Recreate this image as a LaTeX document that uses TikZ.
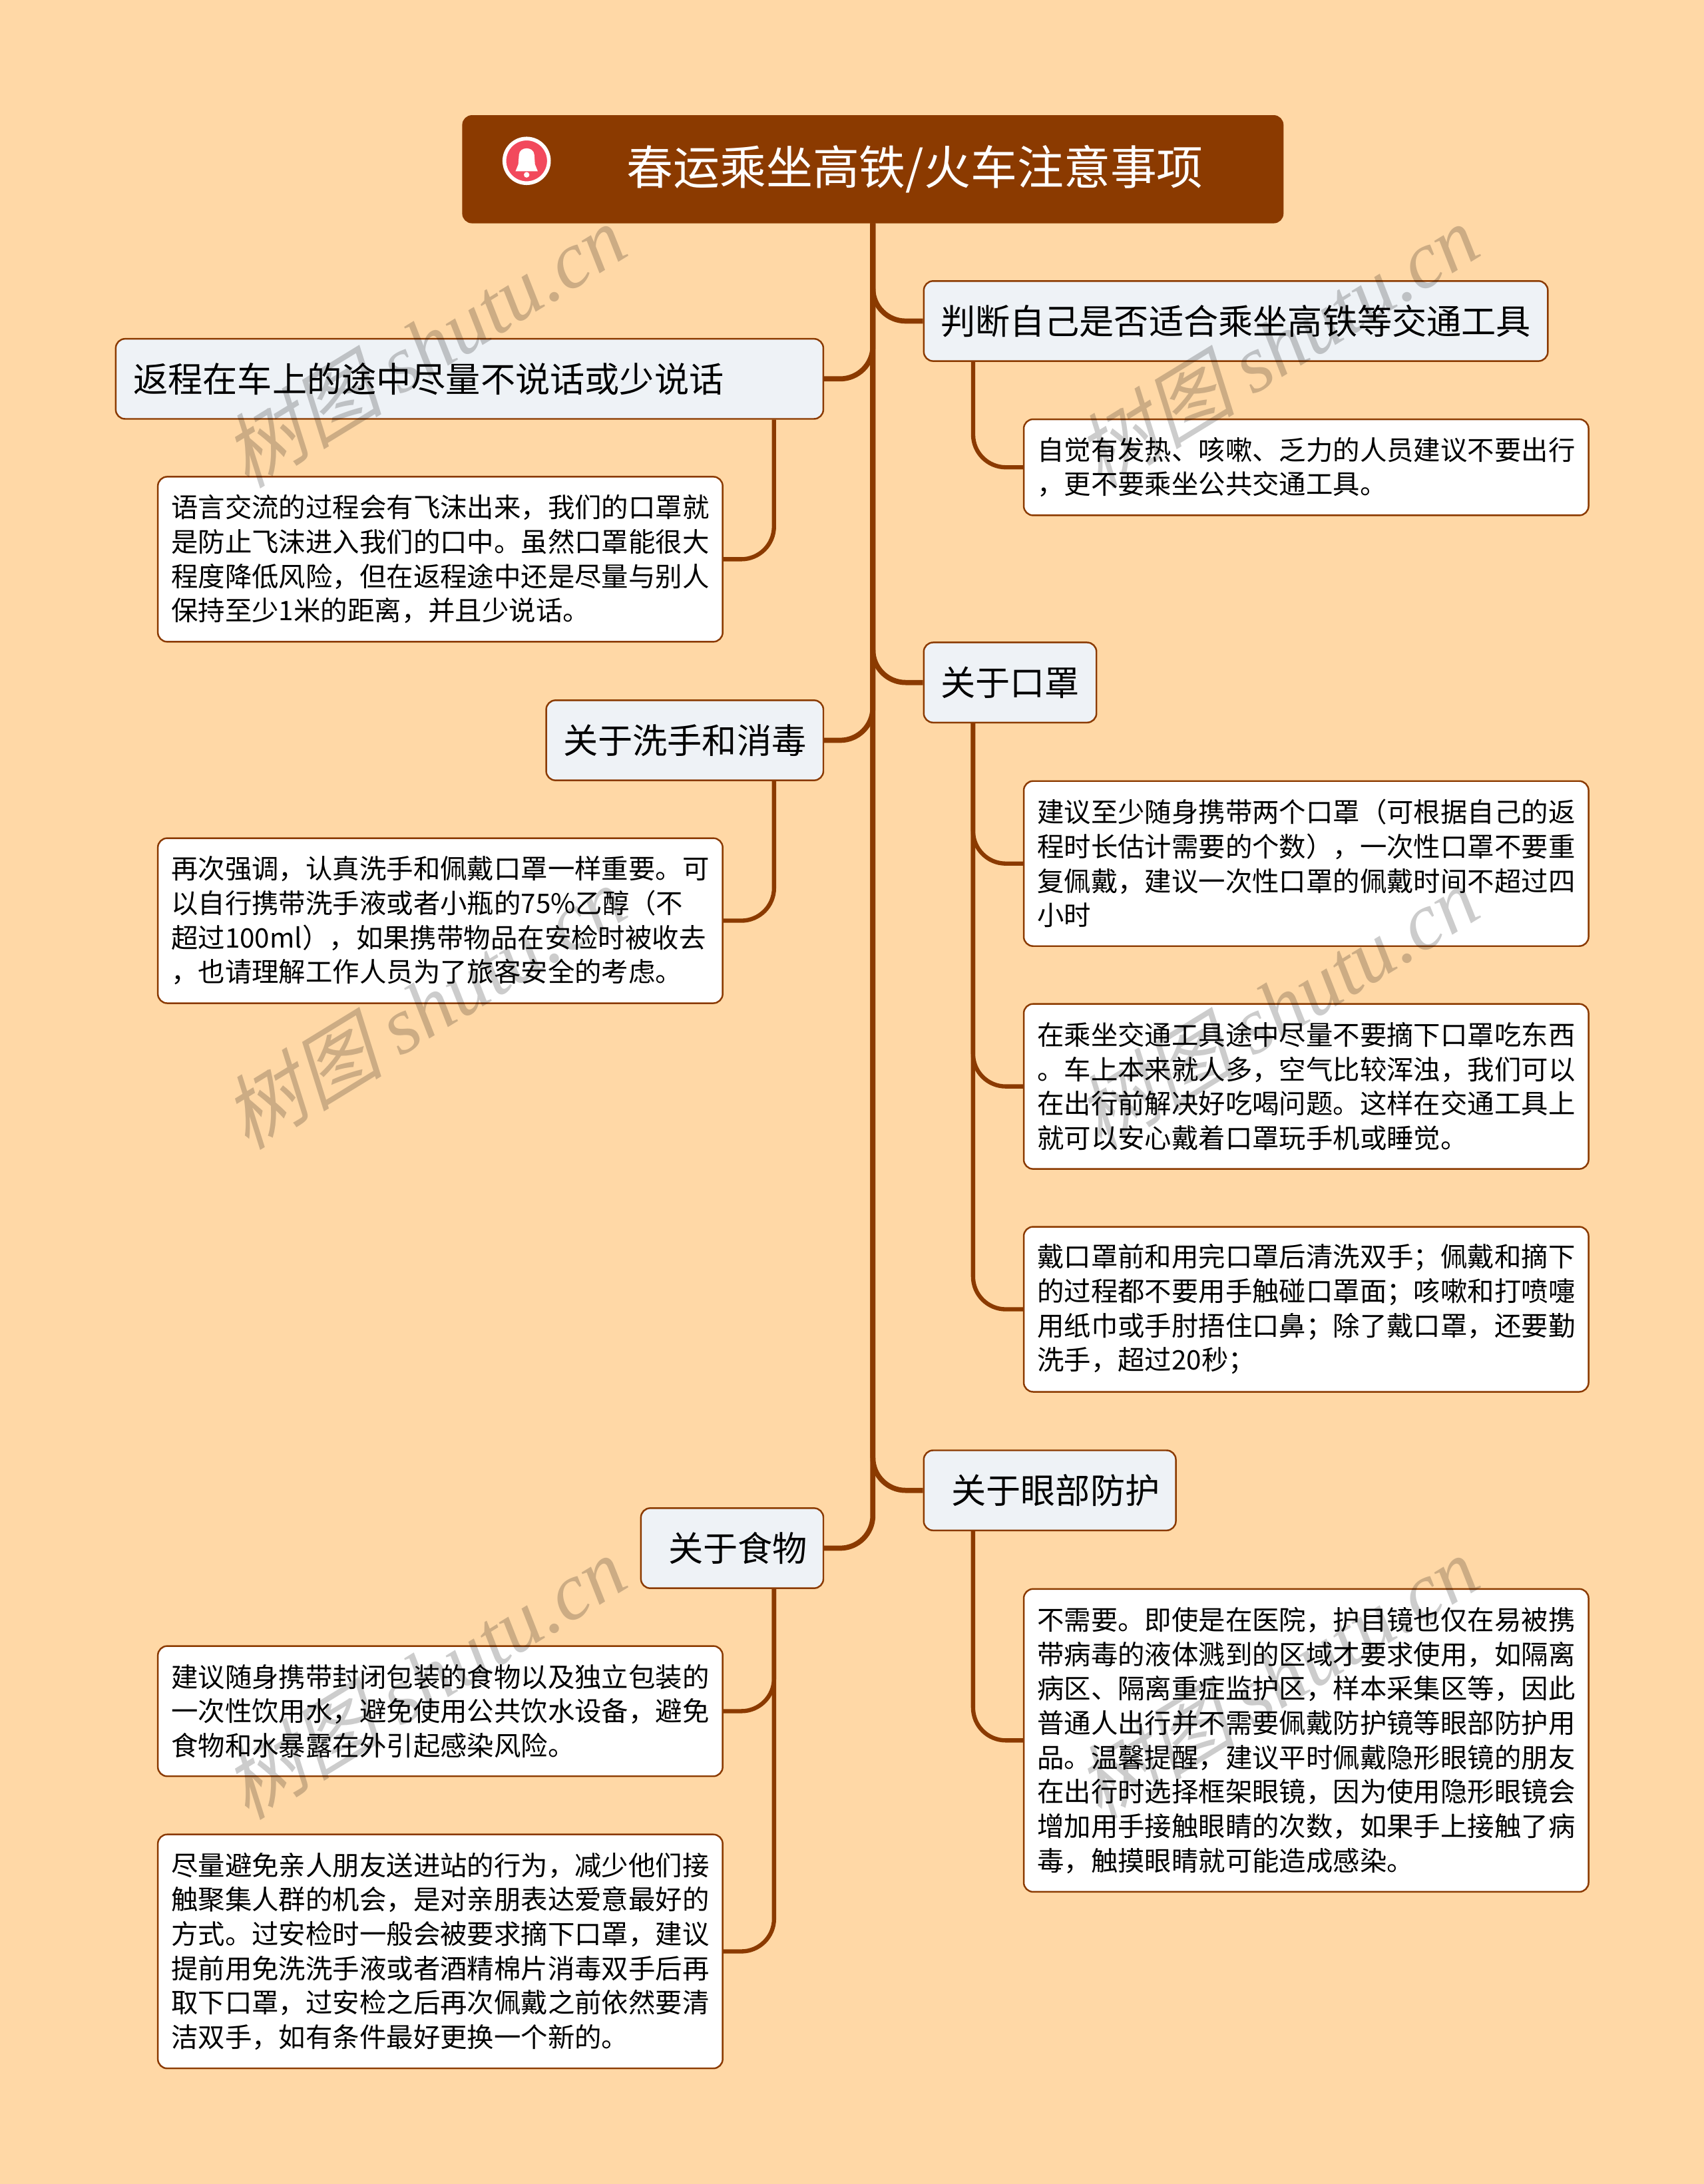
\documentclass[tikz,border=0pt]{standalone}
\usepackage{fontspec}
\setmainfont{Noto Sans CJK SC}
\newfontfamily\wmlatin[Scale=1]{Liberation Serif}
\newfontfamily\wmcjk[FakeSlant=0.25]{Noto Sans CJK SC}
\usetikzlibrary{positioning}
\def\pxu{0.5955pt}
\definecolor{col_back}{HTML}{FFD8A6}
\definecolor{col_line}{HTML}{8B3A00}
\definecolor{col_branch}{HTML}{EEF2F6}
\definecolor{col_bell}{HTML}{F2495C}
\tikzstyle{node_root} = [rectangle, rounded corners=4pt, draw=col_line, fill=col_line, text=white, minimum width=589*\pxu, minimum height=77*\pxu, font=\fontsize{19.9}{24}\selectfont]
\tikzstyle{node_branch} = [rectangle, rounded corners=4pt, draw=col_line, line width=0.7pt, fill=col_branch, text=black, minimum height=57.5*\pxu, font=\fontsize{14.85}{18}\selectfont]
\tikzstyle{node_leaf} = [rectangle, rounded corners=4pt, draw=col_line, line width=0.7pt, fill=white, text=black, align=left, minimum width=405.5*\pxu, font=\fontsize{11.5}{14.7}\selectfont]
\tikzstyle{edge_main} = [draw=col_line, line width=2.2pt, rounded corners=14pt]
\tikzstyle{edge_sub} = [draw=col_line, line width=1.8pt, rounded corners=14pt]
\tikzstyle{node_mark} = [rotate=31.5, text=black, text opacity=0.2, font=\fontsize{34.5}{40}\selectfont]

\begin{document}
\begin{tikzpicture}[x=0.02093cm,y=-0.02093cm]
\fill[col_back] (0,0) rectangle (1223,1568);
\useasboundingbox (0,0) rectangle (1223,1568);

\node (Root) at (626.5,121.5) [node_root] {\hspace*{36pt}春运乘坐高铁/火车注意事项};
\node (Judge) at (887,230.5) [node_branch, minimum width=448*\pxu] {判断自己是否适合乘坐高铁等交通工具};
\node (JudgeA) at (937.5,335.5) [node_leaf, minimum height=69*\pxu] {自觉有发热、咳嗽、乏力的人员建议不要出行\\，更不要乘坐公共交通工具。};
\node (Mask) at (725,490) [node_branch, minimum width=124*\pxu] {关于口罩};
\node (MaskA) at (937.5,620) [node_leaf, minimum height=118.5*\pxu] {建议至少随身携带两个口罩（可根据自己的返\\程时长估计需要的个数），一次性口罩不要重\\复佩戴，建议一次性口罩的佩戴时间不超过四\\小时};
\node (MaskB) at (937.5,780) [node_leaf, minimum height=118.5*\pxu] {在乘坐交通工具途中尽量不要摘下口罩吃东西\\。车上本来就人多，空气比较浑浊，我们可以\\在出行前解决好吃喝问题。这样在交通工具上\\就可以安心戴着口罩玩手机或睡觉。};
\node (MaskC) at (937.5,940) [node_leaf, minimum height=118.5*\pxu] {戴口罩前和用完口罩后清洗双手；佩戴和摘下\\的过程都不要用手触碰口罩面；咳嗽和打喷嚏\\用纸巾或手肘捂住口鼻；除了戴口罩，还要勤\\洗手，超过20秒；};
\node (Eye) at (753.5,1070) [node_branch, minimum width=181*\pxu] {\hspace*{5pt}关于眼部防护};
\node (EyeA) at (937.5,1249.5) [node_leaf, minimum height=217.5*\pxu] {不需要。即使是在医院，护目镜也仅在易被携\\带病毒的液体溅到的区域才要求使用，如隔离\\病区、隔离重症监护区，样本采集区等，因此\\普通人出行并不需要佩戴防护镜等眼部防护用\\品。温馨提醒，建议平时佩戴隐形眼镜的朋友\\在出行时选择框架眼镜，因为使用隐形眼镜会\\增加用手接触眼睛的次数，如果手上接触了病\\毒，触摸眼睛就可能造成感染。};

\node (Back) at (337,272) [node_branch, minimum width=508*\pxu] {返程在车上的途中尽量不说话或少说话\hspace*{35pt}};
\node (BackA) at (316,401.5) [node_leaf, minimum height=118.5*\pxu] {语言交流的过程会有飞沫出来，我们的口罩就\\是防止飞沫进入我们的口中。虽然口罩能很大\\程度降低风险，但在返程途中还是尽量与别人\\保持至少1米的距离，并且少说话。};
\node (Wash) at (491.5,531.5) [node_branch, minimum width=199*\pxu] {关于洗手和消毒};
\node (WashA) at (316,661) [node_leaf, minimum height=118.5*\pxu] {再次强调，认真洗手和佩戴口罩一样重要。可\\以自行携带洗手液或者小瓶的75\%乙醇（不\\超过100ml），如果携带物品在安检时被收去\\，也请理解工作人员为了旅客安全的考虑。};
\node (Food) at (525.5,1111.5) [node_branch, minimum width=131*\pxu] {\hspace*{5pt}关于食物};
\node (FoodA) at (316,1228.5) [node_leaf, minimum height=93.5*\pxu] {建议随身携带封闭包装的食物以及独立包装的\\一次性饮用水，避免使用公共饮水设备，避免\\食物和水暴露在外引起感染风险。};
\node (FoodB) at (316,1401) [node_leaf, minimum height=168*\pxu] {尽量避免亲人朋友送进站的行为，减少他们接\\触聚集人群的机会，是对亲朋表达爱意最好的\\方式。过安检时一般会被要求摘下口罩，建议\\提前用免洗洗手液或者酒精棉片消毒双手后再\\取下口罩，过安检之后再次佩戴之前依然要清\\洁双手，如有条件最好更换一个新的。};

% the bell
\node (Bell) at (378,115.5) [circle, draw=white, line width=1.6pt, fill=col_bell, minimum size=32*\pxu, inner sep=0pt] {};
\fill[white] (370,123) -- (372,118) -- (372.5,111) .. controls (373,105) and (383,105) .. (383.5,111) -- (384,118) -- (386,123) -- cycle;
\fill[white] (378,125.5) circle (2);

\draw[edge_main] (Root.south) |- (Judge.west);
\draw[edge_main] (Root.south) |- (Mask.west);
\draw[edge_main] (Root.south) |- (Eye.west);
\draw[edge_main] (Root.south) |- (Back.east);
\draw[edge_main] (Root.south) |- (Wash.east);
\draw[edge_main] (Root.south) |- (Food.east);

\draw[edge_sub] ([xshift=36*\pxu]Judge.south west) |- (JudgeA.west);
\draw[edge_sub] ([xshift=36*\pxu]Mask.south west) |- (MaskA.west);
\draw[edge_sub] ([xshift=36*\pxu]Mask.south west) |- (MaskB.west);
\draw[edge_sub] ([xshift=36*\pxu]Mask.south west) |- (MaskC.west);
\draw[edge_sub] ([xshift=36*\pxu]Eye.south west) |- (EyeA.west);
\draw[edge_sub] ([xshift=-36*\pxu]Back.south east) |- (BackA.east);
\draw[edge_sub] ([xshift=-36*\pxu]Wash.south east) |- (WashA.east);
\draw[edge_sub] ([xshift=-36*\pxu]Food.south east) |- (FoodA.east);
\draw[edge_sub] ([xshift=-36*\pxu]Food.south east) |- (FoodB.east);

% watermarks
\foreach \name/\xpos/\ypos in {MarkA/304/248, MarkB/916/248, MarkC/304/723, MarkD/916/723, MarkE/304/1204, MarkF/916/1204}
  \node (\name) at (\xpos,\ypos) [node_mark] {{\wmcjk 树图} {\wmlatin\itshape shutu.cn}};
\end{tikzpicture}
\end{document}
